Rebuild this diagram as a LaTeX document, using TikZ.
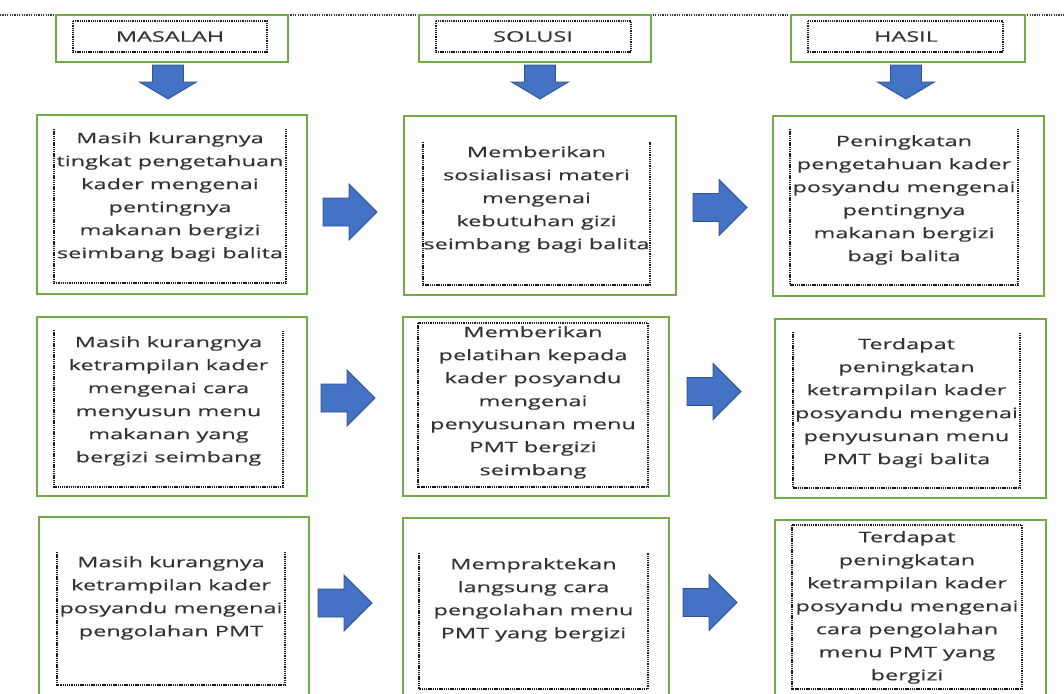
\documentclass[tikz,border=0pt]{standalone}
\usepackage{fontspec}
\setmainfont{Open Sans}[FakeStretch=1.62,FakeBold=0.35]
\usepackage{tikz}
\usepackage{xcolor}
\definecolor{boxgreen}{HTML}{70AD47}
\definecolor{arrowblue}{HTML}{4472C4}
\definecolor{arrowedge}{HTML}{2F528F}

\tikzset{
  outerbox/.style={draw=boxgreen,line width=2pt,fill=white,anchor=north west,inner sep=0pt},
  innerline/.style={line width=1.6pt,dash pattern=on 1.3pt off 0.9pt,black!90},
  topline/.style={line width=1.3pt,dash pattern=on 1.2pt off 1.2pt,black!80},
  boxtext/.style={anchor=north,align=center,inner sep=0pt,text=black!80,font=\fontsize{14.5}{23}\selectfont},
  headtext/.style={inner sep=0pt,text=black!80,font=\fontsize{14.5}{23}\selectfont},
  blockarrow/.style={fill=arrowblue,draw=arrowedge,line width=0.8pt,line join=miter}
}
\newcommand{\rightblock}[2]{\filldraw[blockarrow] (#1,#2-14) -- ++(26,0) -- ++(0,-14) -- ++(28,28) -- ++(-28,28) -- ++(0,-14) -- ++(-26,0) -- cycle;}
\newcommand{\downblock}[2]{\filldraw[blockarrow] (#1-15.5,#2) -- ++(31,0) -- ++(0,17) -- ++(13,0) -- ++(-28.5,17) -- ++(-28.5,-17) -- ++(13,0) -- cycle;}

\begin{document}
\begin{tikzpicture}[x=1pt,y=-1pt]
  \useasboundingbox (0,0) rectangle (1064,693);
  \clip (0,0) rectangle (1064,693);
  \draw[topline] (0,15) -- (1064,15);

  \node[outerbox,minimum width=232,minimum height=47] (masalah) at (55,14) {};
  \draw[innerline] (73,21) rectangle (267,52);
  \node[headtext] (masalaht) at (170,36.5) {MASALAH};
  \node[outerbox,minimum width=232,minimum height=47] (solusi) at (418,14) {};
  \draw[innerline] (436,21) rectangle (631,52);
  \node[headtext] (solusit) at (533,36.5) {SOLUSI};
  \node[outerbox,minimum width=234,minimum height=47] (hasil) at (790,14) {};
  \draw[innerline] (808,21) rectangle (1003,52);
  \node[headtext] (hasilt) at (906,36.5) {HASIL};

  \downblock{168}{65}
  \downblock{540}{65}
  \downblock{906}{65}

  \node[outerbox,minimum width=270,minimum height=179] (m1) at (36,114) {};
  \draw[innerline] (54,129) -- (54,283) -- (286,283) -- (286,129);
  \node[boxtext] (m1t) at (170,132) {Masih kurangnya\\tingkat pengetahuan\\kader mengenai\\pentingnya\\makanan bergizi\\seimbang bagi balita};
  \node[outerbox,minimum width=272,minimum height=179] (s1) at (403,115) {};
  \draw[innerline] (423,142) -- (423,285) -- (650,285) -- (650,142);
  \node[boxtext] (s1t) at (536.5,146) {Memberikan\\sosialisasi materi\\mengenai\\kebutuhan gizi\\seimbang bagi balita};
  \node[outerbox,minimum width=271,minimum height=180] (h1) at (772,115) {};
  \draw[innerline] (790,129) -- (790,285) -- (1018,285) -- (1018,129);
  \node[boxtext] (h1t) at (904,135) {Peningkatan\\pengetahuan kader\\posyandu mengenai\\pentingnya\\makanan bergizi\\bagi balita};
  \rightblock{323}{212}
  \rightblock{693}{207.5}

  \node[outerbox,minimum width=270,minimum height=179] (m2) at (36,316) {};
  \draw[innerline] (54,330) -- (54,487) -- (283,487) -- (283,330);
  \node[boxtext] (m2t) at (168.5,336) {Masih kurangnya\\ketrampilan kader\\mengenai cara\\menyusun menu\\makanan yang\\bergizi seimbang};
  \node[outerbox,minimum width=266,minimum height=179] (s2) at (402,316) {};
  \draw[innerline] (418,323) rectangle (648,487);
  \node[boxtext] (s2t) at (533,326) {Memberikan\\pelatihan kepada\\kader posyandu\\mengenai\\penyusunan menu\\PMT bergizi\\seimbang};
  \node[outerbox,minimum width=271,minimum height=179] (h2) at (774,318) {};
  \draw[innerline] (793,332) -- (793,488) -- (1020,488) -- (1020,332);
  \node[boxtext] (h2t) at (906.5,338) {Terdapat\\peningkatan\\ketrampilan kader\\posyandu mengenai\\penyusunan menu\\PMT bagi balita};
  \rightblock{321}{398}
  \rightblock{687}{391.5}

  \node[outerbox,minimum width=270,minimum height=190] (m3) at (38,516) {};
  \draw[innerline] (57,552) -- (57,685) -- (285,685) -- (285,552);
  \node[boxtext] (m3t) at (171,556) {Masih kurangnya\\ketrampilan kader\\posyandu mengenai\\pengolahan PMT};
  \node[outerbox,minimum width=266,minimum height=190] (s3) at (402,517) {};
  \draw[innerline] (419,553) -- (419,689) -- (648,689) -- (648,553);
  \node[boxtext] (s3t) at (533.5,558) {Mempraktekan\\langsung cara\\pengolahan menu\\PMT yang bergizi};
  \node[outerbox,minimum width=271,minimum height=190] (h3) at (774,519) {};
  \draw[innerline] (792,525) rectangle (1022,689);
  \node[boxtext] (h3t) at (907,531) {Terdapat\\peningkatan\\ketrampilan kader\\posyandu mengenai\\cara pengolahan\\menu PMT yang\\bergizi};
  \rightblock{318}{603}
  \rightblock{683}{602.5}
\end{tikzpicture}
\end{document}
